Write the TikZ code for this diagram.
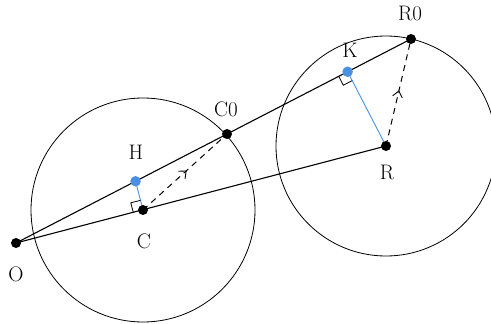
\documentclass[tikz,border=0pt]{standalone}
\usetikzlibrary{calc,decorations.markings,arrows.meta}
\definecolor{ptblue}{HTML}{4A90E2}
\begin{document}
\begin{tikzpicture}[x=1pt,y=-1pt,
  lbl/.style={font=\fontsize{21}{24}\selectfont},
  blk/.style={circle,fill=black,inner sep=0pt,minimum size=10pt},
  blu/.style={circle,fill=ptblue,inner sep=0pt,minimum size=10.5pt},
  main/.style={line width=1.1pt},
  circ/.style={line width=0.8pt},
  dasharrow/.style={line width=1pt,dash pattern=on 6pt off 5pt,
    postaction={decorate},
    decoration={markings,mark=at position 0.52 with {\arrow[solid]{Straight Barb[length=6pt,width=10pt,line width=0.9pt]}}}},
  perp/.style={line width=0.9pt,ptblue},
  rmark/.style={line width=0.8pt}]
\useasboundingbox (0,0) rectangle (491,324);
\coordinate (O) at (16,243);
\coordinate (C) at (143,210);
\coordinate (R) at (386,146);
\coordinate (R0) at (411,39);
\coordinate (C0) at ($(O)!0.5342!(R0)$);
\coordinate (Cp) at ($(C)!40pt!-90:(O)$);
\coordinate (H) at (intersection of O--R0 and C--Cp);
\coordinate (K) at ($(O)!(R)!(R0)$);
% circles
\draw[circ] (C) circle (112);
\draw[circ] (R) circle (110);
% lines
\draw[main] (O) -- (R0);
\draw[main] (O) -- (R);
% perpendiculars
\draw[perp] (H) -- (C);
\draw[perp] (K) -- (R);
% right angle marks
\draw[rmark] ($(C)!10pt!(O)$) -- ($(C)!10pt!(O) + (C)!10pt!(H) - (C)$) -- ($(C)!10pt!(H)$);
\draw[rmark] ($(K)!10pt!(O)$) -- ($(K)!10pt!(O) + (K)!10pt!(R) - (K)$) -- ($(K)!10pt!(R)$);
% dashed arrows
\draw[dasharrow] (C) -- (C0);
\draw[dasharrow] (R) -- (R0);
% points
\node[blk] (nO) at (O) {};
\node[blk] (nC) at (C) {};
\node[blk] (nC0) at (C0) {};
\node[blk] (nR) at (R) {};
\node[blk] (nR0) at (R0) {};
\node[blu] (nH) at (H) {};
\node[blu] (nK) at (K) {};
% labels
\node[lbl] (lO) at (16,274) {O};
\node[lbl] (lC) at (144,241) {C};
\node[lbl] (lH) at (136,152) {H};
\node[lbl] (lC0) at (226,109) {C0};
\node[lbl] (lR) at (387,172) {R};
\node[lbl] (lK) at (350,50) {K};
\node[lbl] (lR0) at (410,13) {R0};
\end{tikzpicture}
\end{document}
